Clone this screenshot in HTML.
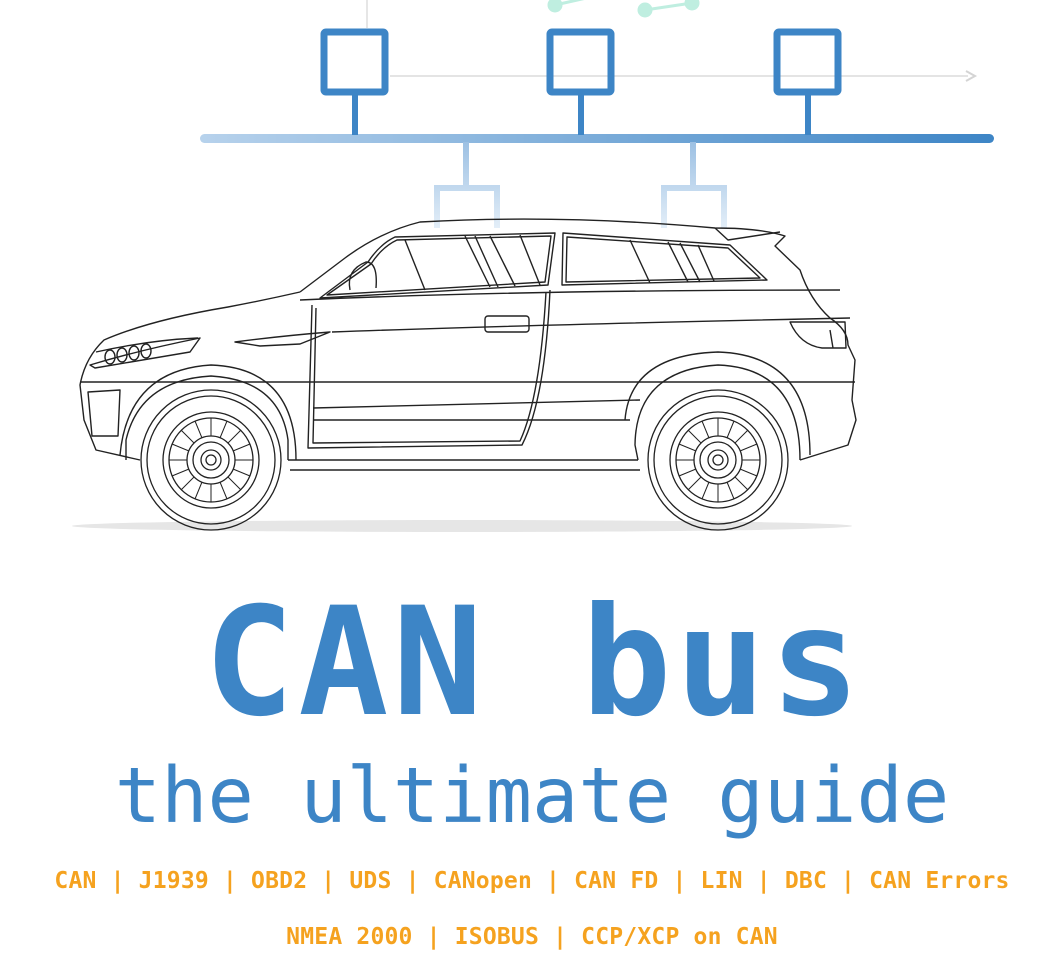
<!DOCTYPE html>
<html><head><meta charset="utf-8"><style>
html,body{margin:0;padding:0;background:#fff;width:1064px;height:974px;overflow:hidden}
.t{position:absolute;left:0;width:1064px;text-align:center;font-family:"DejaVu Sans Mono","Liberation Mono",monospace;white-space:pre}
</style></head><body>
<svg width="1064" height="974" style="position:absolute;left:0;top:0">
<defs>
<linearGradient id="bus" gradientUnits="userSpaceOnUse" x1="200" y1="0" x2="995" y2="0"><stop offset="0" stop-color="#b7d2ec"/><stop offset="1" stop-color="#3d85c6"/></linearGradient>
<linearGradient id="lo" gradientUnits="userSpaceOnUse" x1="0" y1="142" x2="0" y2="228"><stop offset="0" stop-color="#9cc0e3"/><stop offset="1" stop-color="#e3eef8"/></linearGradient>
</defs>
<line x1="367" y1="0" x2="367" y2="28" stroke="#e6e6e6" stroke-width="2"/>
<g fill="#bfeee0" stroke="#bfeee0" stroke-width="3"><circle cx="555" cy="5" r="6"/><circle cx="645" cy="10" r="6"/><circle cx="692" cy="3" r="6"/><line x1="555" y1="5" x2="600" y2="-5"/><line x1="645" y1="10" x2="692" y2="3"/></g>
<line x1="390" y1="76" x2="968" y2="76" stroke="#e4e4e4" stroke-width="2"/>
<path d="M966 71 L975 76 L966 81" fill="none" stroke="#d4d4d4" stroke-width="2"/>
<rect x="200" y="134" width="794" height="9" rx="4.5" fill="url(#bus)"/>
<g fill="none" stroke="#3d85c6" stroke-width="7">
<rect x="324" y="32" width="61" height="60" rx="2"/>
<rect x="550" y="32" width="61" height="60" rx="2"/>
<rect x="777" y="32" width="61" height="60" rx="2"/>
</g>
<g stroke="#3d85c6" stroke-width="6"><line x1="355" y1="95" x2="355" y2="135"/><line x1="581" y1="95" x2="581" y2="135"/><line x1="808" y1="95" x2="808" y2="135"/></g>
<g stroke="url(#lo)" stroke-width="6" fill="none">
<line x1="466" y1="142" x2="466" y2="188"/><line x1="693" y1="142" x2="693" y2="188"/>
<path d="M437 228 V188 H497 V228"/><path d="M664 228 V188 H724 V228"/>
</g>
<ellipse cx="462" cy="526" rx="390" ry="6" fill="#e6e6e6"/>
<g fill="none" stroke="#222" stroke-width="1.4" stroke-linejoin="round">
<path d="M300 292 L345 258 Q380 232 420 222 Q560 214 715 228 Q760 228 785 236 L775 246 L800 270 Q810 300 830 318 Q848 330 848 345 L855 360 L852 400 L856 420 L848 445 L800 460"/>
<path d="M638 460 L288 460"/>
<path d="M140 460 L96 450 L84 420 L80 385 Q85 358 104 340 Q150 320 228 307 Q265 300 300 292"/>
<path d="M715 228 L728 240 L780 232"/>
<path d="M320 298 L368 262 Q380 244 395 237 L555 233 L548 285 Z"/>
<path d="M327 295 L371 264 Q382 247 397 240 L551 236 L545 282 Z"/>
<path d="M563 233 L730 245 L767 280 L562 285 Z"/>
<path d="M567 237 L728 248 L760 278 L566 282 Z"/>
<path d="M350 290 Q346 270 366 262 Q378 262 376 288"/>
<line x1="405" y1="240" x2="425" y2="290"/><line x1="465" y1="236" x2="490" y2="287"/><line x1="475" y1="236" x2="498" y2="287"/><line x1="490" y1="236" x2="515" y2="286"/><line x1="520" y1="235" x2="540" y2="285"/>
<line x1="630" y1="240" x2="650" y2="283"/><line x1="668" y1="242" x2="688" y2="282"/><line x1="680" y1="243" x2="700" y2="282"/><line x1="698" y1="245" x2="714" y2="281"/>
<path d="M300 300 Q520 290 840 290"/>
<path d="M312 305 L308 448 L522 445 Q545 400 550 290"/>
<path d="M316 308 L313 443 L520 441 Q540 398 546 292"/>
<path d="M235 342 Q280 336 330 332 L300 344 L260 346 Z"/>
<path d="M332 332 Q520 325 850 318"/>
<rect x="485" y="316" width="44" height="16" rx="3"/>
<path d="M90 365 Q140 350 200 338 L190 352 L95 368 Z"/>
<path d="M96 352 Q150 340 198 338"/>
<ellipse cx="110" cy="357" rx="5" ry="7"/><ellipse cx="122" cy="355" rx="5" ry="7"/><ellipse cx="134" cy="353" rx="5" ry="7"/><ellipse cx="146" cy="351" rx="5" ry="7"/>
<path d="M790 322 L845 322 L846 348 L822 348 Q800 345 790 322 Z"/><line x1="830" y1="330" x2="833" y2="348"/>
<path d="M88 392 L120 390 L118 436 L92 436 Z"/>
<line x1="80" y1="382" x2="855" y2="382"/>
<path d="M313 408 Q420 405 640 400"/><path d="M313 420 L630 420"/>
<path d="M288 460 L288 440 Q280 380 211 376 Q140 380 126 440 L126 460"/>
<path d="M296 460 Q296 368 211 365 Q128 370 120 455"/>
<path d="M800 460 Q800 368 718 365 Q636 370 635 445 L638 460"/>
<path d="M810 455 Q810 355 718 352 Q630 355 625 420"/>
<line x1="290" y1="470" x2="640" y2="470"/>
</g>
<g fill="none" stroke="#222" stroke-width="1.3">
<circle cx="211" cy="460" r="70"/><circle cx="211" cy="460" r="64"/><circle cx="211" cy="460" r="48"/><circle cx="211" cy="460" r="42"/><circle cx="211" cy="460" r="24"/><circle cx="211" cy="460" r="18"/><circle cx="211" cy="460" r="10"/><circle cx="211" cy="460" r="5"/>
<circle cx="718" cy="460" r="70"/><circle cx="718" cy="460" r="64"/><circle cx="718" cy="460" r="48"/><circle cx="718" cy="460" r="42"/><circle cx="718" cy="460" r="24"/><circle cx="718" cy="460" r="18"/><circle cx="718" cy="460" r="10"/><circle cx="718" cy="460" r="5"/>
</g>
<g stroke="#222" stroke-width="1">
<path d="M211 418V436M211 484V502M169 460H187M235 460H253M181 430L194 443M228 477L241 490M241 430L228 443M194 477L181 490M195 421L202 438M220 482L227 499M227 421L220 438M202 482L195 499M172 444L189 451M233 469L250 476M250 444L233 451M189 469L172 476"/>
<path transform="translate(507 0)" d="M211 418V436M211 484V502M169 460H187M235 460H253M181 430L194 443M228 477L241 490M241 430L228 443M194 477L181 490M195 421L202 438M220 482L227 499M227 421L220 438M202 482L195 499M172 444L189 451M233 469L250 476M250 444L233 451M189 469L172 476"/>
</g>
</svg>
<div class="t" style="top:583px;font-size:150px;font-weight:bold;color:#3d85c6;line-height:160px;letter-spacing:4px;padding-left:4px;box-sizing:border-box">CAN bus</div>
<div class="t" style="top:752px;font-size:77px;color:#3d85c6;line-height:90px">the ultimate guide</div>
<div class="t" style="top:866px;font-size:23px;font-weight:bold;color:#f5a21f;line-height:30px;letter-spacing:0.2px">CAN | J1939 | OBD2 | UDS | CANopen | CAN FD | LIN | DBC | CAN Errors</div>
<div class="t" style="top:922px;font-size:23px;font-weight:bold;color:#f5a21f;line-height:30px;letter-spacing:0.2px">NMEA 2000 | ISOBUS | CCP/XCP on CAN</div>
</body></html>
